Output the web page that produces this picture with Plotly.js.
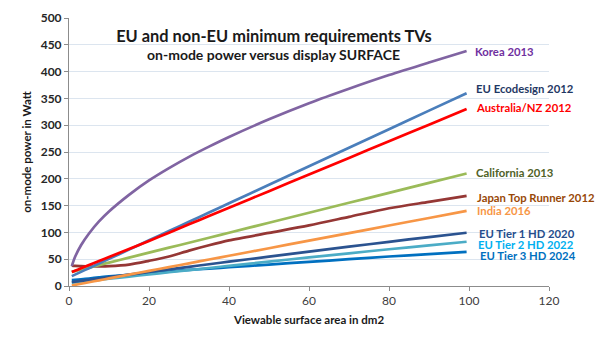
<!DOCTYPE html>
<html>
<head>
<meta charset="utf-8">
<script src="https://cdn.plot.ly/plotly-3.0.1.min.js"></script>
<style>html,body{margin:0;padding:0;background:#fff;}#chart{width:613px;height:349px;}</style>
</head>
<body>
<div id="chart"></div>
<script>
// Viewable surface area (dm2) sample points
const area = [0.7, 1.5, 3, 5, 7.5, 10, 15, 20, 25, 30, 35, 40, 50, 60, 70, 80, 90, 99.4];

const korea2013      = [37, 54, 76, 98, 120.5, 139, 170, 197, 220, 241, 260, 278, 311, 341, 368, 393.5, 417, 438.5];
const euEcodesign2012= [18.4, 21.2, 26.4, 33.3, 41.9, 50.6, 67.9, 85.2, 102.5, 119.7, 137, 154.3, 188.9, 223.5, 258.1, 292.6, 327.2, 359.7];
const australiaNZ2012= [26, 28.5, 33, 39, 46.5, 54, 69, 84, 99.5, 115, 130.5, 146, 177, 208, 239, 270, 301, 330];
const california2013 = [26.3, 27.8, 30.6, 34.3, 39, 43.6, 52.9, 62.2, 71.5, 80.8, 90.1, 99.4, 118, 136.6, 155.2, 173.8, 192.4, 209.9];
const japanTR2012    = [38, 37.5, 37, 36.5, 36.5, 37, 40, 47, 55, 66, 76, 85, 99, 113, 129, 145, 157, 168];
const india2016      = [1, 2.1, 4.2, 7, 10.6, 14.1, 21.2, 28.2, 35.3, 42.3, 49.4, 56.4, 70.5, 84.6, 98.7, 112.8, 126.9, 140.2];
const euTier1HD2020  = [7.4, 8.1, 9.6, 11.5, 14.0, 16.4, 21.2, 26.1, 30.9, 35.8, 40.6, 45.4, 54.8, 64.2, 73.4, 82.4, 91.3, 99.3];
const euTier2HD2022  = [6.0, 6.6, 7.8, 9.4, 11.5, 13.5, 17.5, 21.6, 25.6, 29.6, 33.6, 37.6, 45.5, 53.3, 61.0, 68.5, 75.9, 82.6];
const euTier3HD2024  = [11, 11.5, 12.5, 14, 16, 18, 21, 24, 27, 30, 32.5, 35, 40, 45, 50, 55, 59.5, 63.5];

const seriesNames = ["Korea 2013", "EU Ecodesign 2012", "Australia/NZ 2012", "California 2013",
  "Japan Top Runner 2012", "India 2016", "EU Tier 1 HD 2020", "EU Tier 2 HD 2022", "EU Tier 3 HD 2024"];
const seriesValues = [korea2013, euEcodesign2012, australiaNZ2012, california2013,
  japanTR2012, india2016, euTier1HD2020, euTier2HD2022, euTier3HD2024];
// label vertical positions (W) at right of the lines
const labelY = [437.6, 368, 333, 212.5, 165, 141.5, 98.7, 78, 56];
const labelX = [101.2, 101.6, 101.6, 101.6, 101.8, 101.8, 102.3, 101.9, 102.6];

const lineColors = ["#8064A2", "#4A7EBB", "#FF0000", "#9BBB59", "#953735", "#F79646", "#2B5390", "#4BACC6", "#0070C0"];
const labelColors = ["#7030A0", "#1F3864", "#FF0000", "#4F6228", "#984807", "#F79646", "#254D8C", "#00B0F0", "#0070C0"];

const FONT = "Lato, 'Open Sans', sans-serif";

const traces = seriesValues.map((vals, i) => ({
  x: area, y: vals, type: "scatter", mode: "lines", name: seriesNames[i],
  line: {color: lineColors[i], width: 2.7, shape: "spline", smoothing: 0.8},
  hoverinfo: "x+y+name"
}));
// draw order: back to front similar to reference
const order = [8, 7, 6, 5, 4, 3, 1, 2, 0];
const data = order.map(i => traces[i]);

const annotations = seriesNames.map((n, i) => ({
  x: labelX[i], y: labelY[i], xref: "x", yref: "y", xanchor: "left", yanchor: "middle",
  text: "<b>" + n + "</b>", showarrow: false, borderpad: 0,
  font: {family: FONT, size: 11.3, color: labelColors[i]}
}));
annotations.push({
  x: 0.427, y: 0.862, xref: "paper", yref: "paper", xanchor: "center", yanchor: "middle",
  text: "<b>on-mode power versus display SURFACE</b>", showarrow: false,
  font: {family: FONT, size: 14, color: "#1a1a1a"}
});

const layout = {
  width: 613, height: 349,
  margin: {l: 69, r: 64, t: 18, b: 63, pad: 0},
  paper_bgcolor: "#ffffff", plot_bgcolor: "#ffffff",
  showlegend: false,
  font: {family: FONT, color: "#404040"},
  title: {
    text: "<b>EU and non-EU minimum requirements TVs</b>",
    x: 0.427, xref: "paper", xanchor: "center",
    y: 1 - 36.7 / 349, yref: "container", yanchor: "middle",
    font: {family: FONT, size: 16.4, color: "#1a1a1a"}
  },
  xaxis: {
    range: [0, 120], dtick: 20, tick0: 0,
    showgrid: false, zeroline: false,
    showline: true, linecolor: "#8C8C8C", linewidth: 1,
    ticks: "outside", ticklen: 4, tickcolor: "#8C8C8C",
    tickfont: {family: FONT, size: 12, color: "#404040"},
    title: {text: "<b>Viewable surface area in dm2</b>", standoff: 8,
            font: {family: FONT, size: 11.5, color: "#1a1a1a"}},
    automargin: false
  },
  yaxis: {
    range: [0, 500], dtick: 50, tick0: 0,
    showgrid: true, gridcolor: "#DCE5EF", gridwidth: 1,
    zeroline: false,
    showline: true, linecolor: "#8C8C8C", linewidth: 1,
    ticks: "outside", ticklen: 4, tickcolor: "#8C8C8C",
    tickfont: {family: FONT, size: 12, color: "#262626", weight: "bold"},
    title: {text: "<b>on-mode power in Watt</b>", standoff: 6,
            font: {family: FONT, size: 11.5, color: "#1a1a1a"}},
    automargin: false
  },
  annotations: annotations
};

Plotly.newPlot("chart", data, layout, {displayModeBar: false, staticPlot: true});
</script>
</body>
</html>
